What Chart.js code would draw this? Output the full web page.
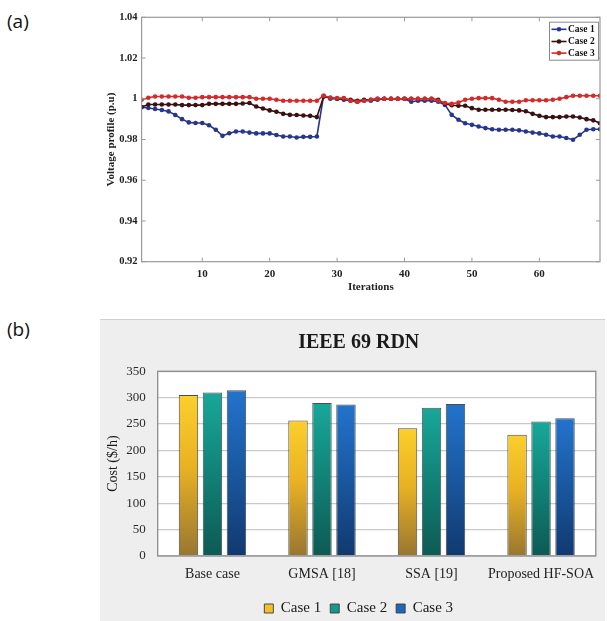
<!DOCTYPE html>
<html>
<head>
<meta charset="utf-8">
<script src="https://cdn.jsdelivr.net/npm/chart.js@4.4.1/dist/chart.umd.min.js"></script>
<style>
  html, body { margin: 0; padding: 0; background: #ffffff; width: 607px; height: 621px; overflow: hidden; }
  .lbl { position: absolute; font-family: "Open Sans", "Noto Sans", sans-serif; font-size: 19px; color: #111; }
  #wrapA { position: absolute; left: 90px; top: 0px; width: 517px; height: 300px; }
  #panelB { position: absolute; left: 100px; top: 319px; width: 505px; height: 302px; background: #efeeee; border-top: 1px solid #d0d0d0; }
  #wrapB { position: absolute; left: 100px; top: 319px; width: 505px; height: 307px; }
</style>
</head>
<body>
<div class="lbl" style="left:7px; top:8px;">(a)</div>
<div class="lbl" style="left:7px; top:316px;">(b)</div>
<div id="wrapA"><canvas id="chartA" width="517" height="300"></canvas></div>
<div id="panelB"></div>
<div id="wrapB"><canvas id="chartB" width="505" height="307"></canvas></div>
<script>
// ---------- Chart (a) data ----------
const iterations = [1,2,3,4,5,6,7,8,9,10,11,12,13,14,15,16,17,18,19,20,21,22,23,24,25,26,27,28,29,30,31,32,33,34,35,36,37,38,39,40,41,42,43,44,45,46,47,48,49,50,51,52,53,54,55,56,57,58,59,60,61,62,63,64,65,66,67,68,69];
const seriesLabelsA = ['Case 1', 'Case 2', 'Case 3'];
const voltageCase1 = [0.9959,0.9955,0.9950,0.9945,0.9938,0.9920,0.9900,0.9884,0.9881,0.9881,0.9870,0.9848,0.9818,0.9831,0.9839,0.9839,0.9834,0.9830,0.9830,0.9830,0.9822,0.9815,0.9815,0.9810,0.9813,0.9813,0.9815,
  1.0015,1.0000,1.0000,0.9995,0.9990,0.9985,0.9990,0.9990,0.9995,1.0000,1.0000,1.0000,1.0000,0.9985,0.9990,0.9990,0.9990,0.9985,0.9970,
  0.9921,0.9897,0.9880,0.9872,0.9864,0.9856,0.9850,0.9848,0.9848,0.9848,0.9845,0.9839,0.9834,0.9830,0.9823,0.9815,0.9815,0.9807,0.9799,0.9823,0.9848,0.9850,0.9850];
const voltageCase2 = [0.9959,0.9972,0.9972,0.9972,0.9972,0.9972,0.9969,0.9969,0.9969,0.9969,0.9975,0.9975,0.9975,0.9975,0.9975,0.9977,0.9979,0.9962,0.9952,0.9943,0.9936,0.9926,0.9921,0.9920,0.9918,0.9916,0.9910,
  1.0010,1.0005,1.0000,1.0000,0.9995,0.9990,0.9995,0.9995,1.0000,1.0000,1.0000,1.0000,1.0000,1.0000,1.0000,1.0000,1.0000,0.9995,0.9975,
  0.9968,0.9966,0.9966,0.9954,0.9946,0.9946,0.9946,0.9946,0.9946,0.9945,0.9943,0.9939,0.9926,0.9916,0.9910,0.9910,0.9910,0.9913,0.9913,0.9908,0.9900,0.9894,0.9880];
const voltageCase3 = [0.9995,1.0005,1.0011,1.0011,1.0011,1.0011,1.0011,1.0005,1.0005,1.0008,1.0008,1.0008,1.0008,1.0008,1.0008,1.0008,1.0008,1.0000,1.0000,1.0000,0.9995,0.9990,0.9990,0.9990,0.9990,0.9990,0.9990,
  1.0015,1.0005,1.0003,1.0003,0.9990,0.9985,0.9990,0.9995,1.0000,1.0000,1.0000,1.0000,1.0000,1.0000,1.0000,1.0000,1.0000,0.9990,0.9979,
  0.9975,0.9982,0.9995,1.0000,1.0003,1.0003,1.0003,0.9995,0.9985,0.9985,0.9985,0.9993,0.9993,0.9993,0.9993,0.9995,1.0000,1.0008,1.0015,1.0015,1.0015,1.0015,1.0015];
const xTicksA = [10, 20, 30, 40, 50, 60];
const yTicksA = [0.92, 0.94, 0.96, 0.98, 1.00, 1.02, 1.04];
const yTickLabelsA = ['0.92', '0.94', '0.96', '0.98', '1', '1.02', '1.04'];
const colorsA = ['#27368c', '#3a1010', '#d42a2a'];

// ---------- Chart (b) data ----------
const methodsB = ['Base case', 'GMSA [18]', 'SSA [19]', 'Proposed HF-SOA'];
const seriesLabelsB = ['Case 1', 'Case 2', 'Case 3'];
const costCase1 = [305, 257, 242, 230];
const costCase2 = [310, 290, 281, 255];
const costCase3 = [314, 287, 288, 261];
const yTicksB = [0, 50, 100, 150, 200, 250, 300, 350];

const serifA = "'Liberation Serif', 'DejaVu Serif', serif";

// ---------- plugins for chart (a) ----------
const frameA = {
  id: 'frameA',
  afterDatasetsDraw(chart) {
    const {ctx, chartArea: a, scales} = chart;
    ctx.save();
    ctx.strokeStyle = '#9a9a9a';
    ctx.lineWidth = 1.2;
    ctx.strokeRect(a.left, a.top, a.right - a.left, a.bottom - a.top);
    ctx.lineWidth = 1;
    const tl = 4;
    ctx.beginPath();
    xTicksA.forEach(v => {
      const x = scales.x.getPixelForValue(v);
      ctx.moveTo(x, a.bottom); ctx.lineTo(x, a.bottom - tl);
      ctx.moveTo(x, a.top); ctx.lineTo(x, a.top + tl);
    });
    yTicksA.forEach(v => {
      const y = scales.y.getPixelForValue(v);
      ctx.moveTo(a.left, y); ctx.lineTo(a.left + tl, y);
      ctx.moveTo(a.right, y); ctx.lineTo(a.right - tl, y);
    });
    ctx.stroke();
    ctx.restore();
  },
  afterDraw(chart) {
    const {ctx, chartArea: a} = chart;
    const w = 49, h = 38;
    const left = a.right - 2 - w, top = a.top + 4.4;
    ctx.save();
    ctx.fillStyle = '#ffffff';
    ctx.fillRect(left, top, w, h);
    ctx.strokeStyle = '#8a8a8a';
    ctx.lineWidth = 1;
    ctx.strokeRect(left + 0.5, top + 0.5, w, h);
    ctx.font = "bold 9.5px " + serifA;
    ctx.textBaseline = 'middle';
    ctx.textAlign = 'left';
    const rows = [7.6, 19.8, 31.4];
    chart.data.datasets.forEach((ds, i) => {
      const y = top + rows[i];
      ctx.strokeStyle = ds.borderColor;
      ctx.lineWidth = 1.6;
      ctx.beginPath(); ctx.moveTo(left + 2.5, y); ctx.lineTo(left + 17.5, y); ctx.stroke();
      ctx.fillStyle = ds.borderColor;
      ctx.beginPath(); ctx.arc(left + 10, y, 2.3, 0, Math.PI * 2); ctx.fill();
      ctx.fillStyle = '#111';
      ctx.fillText(ds.label, left + 19, y + 0.5);
    });
    ctx.restore();
  }
};

const chartA = new Chart(document.getElementById('chartA'), {
  type: 'line',
  data: {
    labels: iterations,
    datasets: [voltageCase1, voltageCase2, voltageCase3].map((d, i) => ({
      label: seriesLabelsA[i],
      data: d,
      borderColor: colorsA[i],
      backgroundColor: colorsA[i],
      borderWidth: 1.6,
      pointRadius: 2.3,
      pointBorderWidth: 0,
      pointHoverRadius: 2.3,
      tension: 0,
      order: 2 - i
    }))
  },
  options: {
    responsive: false,
    animation: false,
    layout: { padding: { top: 17.3, right: 7, left: 0, bottom: 0 } },
    plugins: { legend: { display: false }, tooltip: { enabled: false }, title: { display: false } },
    scales: {
      x: {
        type: 'linear', min: 1, max: 69,
        afterBuildTicks: s => { s.ticks = xTicksA.map(v => ({ value: v })); },
        afterFit: s => { s.height = 38.3; },
        grid: { display: false, drawTicks: false },
        border: { display: false },
        ticks: { font: { family: serifA, size: 11, weight: 'bold' }, color: '#222', padding: 6, maxRotation: 0 },
        title: { display: true, text: 'Iterations', font: { family: serifA, size: 11, weight: 'bold' }, color: '#222', padding: { top: 0, bottom: 6.5 } }
      },
      y: {
        min: 0.92, max: 1.04,
        afterBuildTicks: s => { s.ticks = yTicksA.map(v => ({ value: v })); },
        afterFit: s => { s.width = 51.6; },
        grid: { display: false, drawTicks: false },
        border: { display: false },
        ticks: { font: { family: serifA, size: 10.5, weight: 'bold' }, color: '#222', padding: 4,
          callback: (v, idx) => yTickLabelsA[idx] },
        title: { display: true, text: 'Voltage profile (p.u)', font: { family: serifA, size: 11, weight: 'bold' }, color: '#222', padding: { top: 15, bottom: 0 } }
      }
    }
  },
  plugins: [frameA]
});

// ---------- chart (b) ----------
const gradStops = [
  ['#fbcf2c', '#e9b123', '#987632'],
  ['#17a89a', '#12857a', '#0d5a54'],
  ['#2373cc', '#1a5aa4', '#11396f']
];
const legendColorsB = ['#f2c12a', '#14998c', '#1d66b9'];

function barGradient(i) {
  return (ctx) => {
    const chart = ctx.chart;
    const ys = chart.scales.y;
    if (ctx.type !== 'data' || !ys || !chart.chartArea) return legendColorsB[i];
    const top = ys.getPixelForValue(ctx.raw);
    const bottom = ys.getPixelForValue(0);
    if (!isFinite(top) || !isFinite(bottom) || bottom <= top) return legendColorsB[i];
    const g = chart.ctx.createLinearGradient(0, top, 0, bottom);
    g.addColorStop(0, gradStops[i][0]);
    g.addColorStop(0.45, gradStops[i][1]);
    g.addColorStop(1, gradStops[i][2]);
    return g;
  };
}

const frameB = {
  id: 'frameB',
  beforeDraw(chart) {
    const {ctx, chartArea: a} = chart;
    ctx.save();
    ctx.fillStyle = '#ffffff';
    ctx.fillRect(a.left, a.top, a.right - a.left, a.bottom - a.top);
    ctx.restore();
  },
  afterDraw(chart) {
    const {ctx, chartArea: a} = chart;
    ctx.save();
    ctx.strokeStyle = '#8c8c8c';
    ctx.lineWidth = 1.3;
    ctx.strokeRect(a.left, a.top, a.right - a.left, a.bottom - a.top);
    ctx.restore();
  }
};

const chartB = new Chart(document.getElementById('chartB'), {
  type: 'bar',
  data: {
    labels: methodsB,
    datasets: [costCase1, costCase2, costCase3].map((d, i) => ({
      label: seriesLabelsB[i],
      data: d,
      backgroundColor: barGradient(i),
      borderColor: 'rgba(45,45,45,0.85)',
      borderWidth: 1,
      categoryPercentage: 0.657,
      barPercentage: 0.81
    }))
  },
  options: {
    responsive: false,
    animation: false,
    layout: { padding: { top: 0, right: 7, left: 19.4, bottom: 0 } },
    plugins: {
      tooltip: { enabled: false },
      title: { display: true, text: 'IEEE 69 RDN', color: '#1a1a1a',
        font: { family: serifA, size: 20, weight: 'bold' }, padding: { top: 12, bottom: 16.3 } },
      legend: {
        position: 'bottom',
        labels: {
          font: { family: serifA, size: 15 }, color: '#1a1a1a',
          boxWidth: 9, boxHeight: 9, padding: 9,
          generateLabels: (chart) => chart.data.datasets.map((ds, i) => ({
            text: ds.label, fillStyle: legendColorsB[i], strokeStyle: 'rgba(60,60,60,0.9)',
            lineWidth: 1, hidden: false, datasetIndex: i, fontColor: '#1a1a1a'
          }))
        }
      }
    },
    scales: {
      x: {
        afterFit: s => { const lg = s.chart.legend; s.height = s.chart.height - (lg ? lg.height : 30) - 237; },
        grid: { display: false, drawTicks: false },
        border: { display: false },
        ticks: { font: { family: serifA, size: 14 }, color: '#222', padding: 10, maxRotation: 0 }
      },
      y: {
        min: 0, max: 350,
        afterBuildTicks: s => { s.ticks = yTicksB.map(v => ({ value: v })); },
        afterFit: s => { s.width = 38.3; },
        grid: { color: '#c9c9c9', lineWidth: 1.3, drawTicks: false },
        border: { display: false },
        ticks: { font: { family: serifA, size: 13 }, color: '#2a2a2a', padding: 12 },
        title: { display: true, text: 'Cost ($/h)', font: { family: serifA, size: 14 }, color: '#1a1a1a', padding: { top: -14.5, bottom: 0 } }
      }
    }
  },
  plugins: [frameB]
});
</script>
</body>
</html>
